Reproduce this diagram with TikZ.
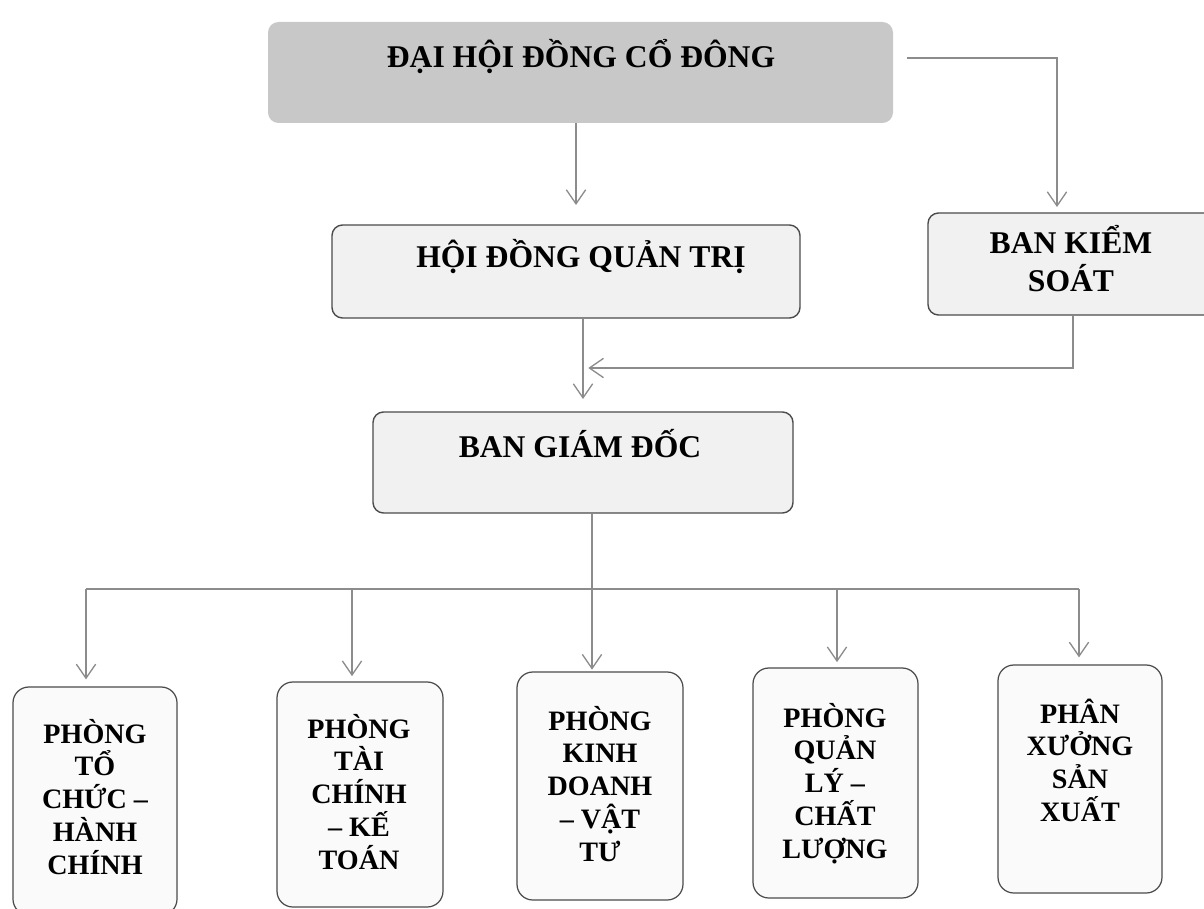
\documentclass[tikz,border=0pt]{standalone}
\usepackage{fontspec}
\setmainfont{Liberation Serif}
\usetikzlibrary{arrows.meta,fit}
\definecolor{dhfill}{RGB}{200,200,200}
\definecolor{lightfill}{RGB}{241,241,241}
\definecolor{bottomfill}{RGB}{250,250,250}
\definecolor{bordc}{RGB}{75,75,75}
\definecolor{linec}{RGB}{140,140,140}
\newcommand{\txtstack}[3]{\parbox[t]{5cm}{\centering\fontsize{#1}{#2}\selectfont\bfseries #3}}
\begin{document}
\begin{tikzpicture}[x=0.02cm,y=-0.02cm,
  topbox/.style={rectangle, rounded corners=6pt, fill=dhfill, draw=none, inner sep=0pt},
  midbox/.style={rectangle, rounded corners=6pt, fill=lightfill, draw=bordc, line width=0.8pt, inner sep=0pt},
  lowbox/.style={rectangle, rounded corners=9pt, fill=bottomfill, draw=bordc, line width=0.7pt, inner sep=0pt},
  lbl/.style={inner sep=0pt, anchor=base, font=\fontsize{18}{22}\selectfont\bfseries},
  mlbl/.style={inner sep=0pt, anchor=base},
  conn/.style={draw=linec, line width=0.75pt},
  arr/.style={conn, -{Straight Barb[length=8pt,width=11pt]}}]
\clip (0,0) rectangle (1204,909);
\fill[white] (0,0) rectangle (1204,909);

% boxes
\node[topbox, fit={(268,22) (893,123)}] (dh) {};
\node[midbox, fit={(332,225) (800,318)}] (hq) {};
\node[midbox, fit={(928,213) (1220,315)}] (bks) {};
\node[midbox, fit={(373,412) (793,513)}] (bgd) {};
\node[lowbox, fit={(13,687) (177,915)}] (p1) {};
\node[lowbox, fit={(277,682) (443,907)}] (p2) {};
\node[lowbox, fit={(517,672) (683,900)}] (p3) {};
\node[lowbox, fit={(753,668) (918,898)}] (p4) {};
\node[lowbox, fit={(998,665) (1162,893)}] (p5) {};

% texts
\node[lbl] (dht) at (581,68) {ĐẠI HỘI ĐỒNG CỔ ĐÔNG};
\node[lbl] (hqt) at (581,267) {HỘI ĐỒNG QUẢN TRỊ};
\node[mlbl] (bkst) at (1071,253) {\txtstack{18}{22}{BAN KIỂM\\SOÁT}};
\node[lbl] (bgdt) at (580,457) {BAN GIÁM ĐỐC};
\node[mlbl] (t1) at (95,743) {\txtstack{16}{18.7}{PHÒNG\\TỔ\\CHỨC –\\HÀNH\\CHÍNH}};
\node[mlbl] (t2) at (359,738) {\txtstack{16}{18.7}{PHÒNG\\TÀI\\CHÍNH\\– KẾ\\TOÁN}};
\node[mlbl] (t3) at (600,730) {\txtstack{16}{18.7}{PHÒNG\\KINH\\DOANH\\– VẬT\\TƯ}};
\node[mlbl] (t4) at (835,727) {\txtstack{16}{18.7}{PHÒNG\\QUẢN\\LÝ –\\CHẤT\\LƯỢNG}};
\node[mlbl] (t5) at (1080,723) {\txtstack{16}{18.7}{PHÂN\\XƯỞNG\\SẢN\\XUẤT}};

% helper coordinates
\coordinate (c1) at (576,0);
\coordinate (k1) at (1057,58);
\coordinate (c4) at (583,0);
\coordinate (k2) at (1073,368);
\coordinate (bl) at (86,589);
\coordinate (d2) at (352,589);
\coordinate (d3) at (592,589);
\coordinate (d4) at (837,589);
\coordinate (br) at (1079,589);

% connectors
\draw[arr, shorten >=11pt] (dh.south -| c1) -- (hq.north -| c1);
\draw[arr, shorten <=8pt, shorten >=3pt] (dh.east |- k1) -- (k1) -- (k1 |- bks.north);
\draw[arr, shorten >=7pt] (hq.south -| c4) -- (bgd.north -| c4);
\draw[arr, shorten >=3pt] (bks.south -| k2) -- (k2) -- (k2 -| c4);
\draw[conn] (bl) -- (br);
\draw[arr, shorten >=1pt] (bgd.south -| d3) -- (p3.north -| d3);
\draw[arr, shorten >=4pt] (bl) -- (p1.north -| bl);
\draw[arr, shorten >=3pt] (d2) -- (p2.north -| d2);
\draw[arr, shorten >=3pt] (d4) -- (p4.north -| d4);
\draw[arr, shorten >=4pt] (br) -- (p5.north -| br);
\end{tikzpicture}
\end{document}
